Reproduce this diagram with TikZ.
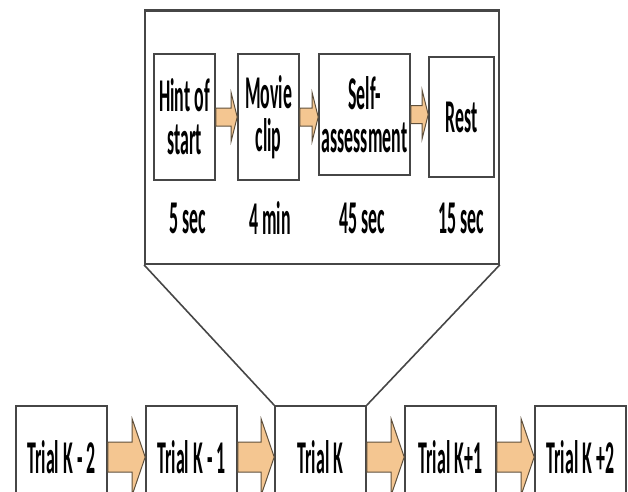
\documentclass[tikz,border=0pt]{standalone}
\usepackage{fontspec}
\newfontfamily\trialfont{Carlito}[FakeStretch=0.38]
\usetikzlibrary{calc}
\definecolor{arrowtan}{RGB}{244,198,145}
\definecolor{arrowedge}{RGB}{95,80,60}
\definecolor{boxedge}{RGB}{70,70,70}
% block arrow: from, to, shaft half, head half, head length
\newcommand{\fatarrow}[5]{%
  \draw[arrowbody] let \p1=(#1.east), \p2=(#2.west) in
    (\x1,\y1+#3) -- (\x2-#5,\y1+#3) -- (\x2-#5,\y1+#4) -- (\x2,\y1)
    -- (\x2-#5,\y1-#4) -- (\x2-#5,\y1-#3) -- (\x1,\y1-#3) -- cycle;}

\begin{document}
\begin{tikzpicture}[x=1pt,y=-1pt,
  font=\trialfont\bfseries\fontsize{47}{43}\selectfont,
  stagebox/.style={draw=boxedge,line width=1.6pt,inner sep=0pt,align=center,minimum height=126pt},
  trialbox/.style={draw=boxedge,line width=1.6pt,inner sep=0pt,minimum width=91pt,minimum height=102pt},
  arrowbody/.style={fill=arrowtan,draw=arrowedge,line width=1pt,line join=miter}]
\useasboundingbox (0,0) rectangle (628,491);
\clip (0,0) rectangle (628,491);
%one trial
\node[draw=boxedge,line width=1.8pt,minimum width=354pt,minimum height=253pt,anchor=north west] (frame) at (144,10) {};
\draw[draw=boxedge,line width=3pt] (frame.north west) -- (frame.north east);
\node[stagebox,minimum width=61pt] (hint) at (184.5,117) {Hint of\\start};
\node[stagebox,minimum width=61pt] (movie) at (268.5,117) {Movie\\clip};
\node[stagebox,minimum width=91pt,minimum height=121pt] (self) at (364.5,114.5) {Self-\\assessment};
\node[stagebox,minimum width=65pt,minimum height=120pt] (rest) at (461.5,117) {Rest};
\fatarrow{hint}{movie}{9pt}{24pt}{6pt}
\fatarrow{movie}{self}{9pt}{24pt}{6pt}
\fatarrow{self}{rest}{9pt}{24pt}{6pt}
\node (dhint) at (188,218) {5 sec};
\node (dmovie) at (270,218) {4 min};
\node (dself) at (362,218) {45 sec};
\node (drest) at (461,218) {15 sec};
%trials
\node[trialbox] (trialKm2) at (61.5,457) {Trial K - 2};
\node[trialbox] (trialKm1) at (191.5,457) {Trial K - 1};
\node[trialbox] (trialK) at (320.5,457) {Trial K};
\node[trialbox] (trialKp1) at (450.5,457) {Trial K+1};
\node[trialbox] (trialKp2) at (580.5,457) {Trial K +2};
\fatarrow{trialKm2}{trialKm1}{15pt}{38pt}{13pt}
\fatarrow{trialKm1}{trialK}{15pt}{38pt}{13pt}
\fatarrow{trialK}{trialKp1}{15pt}{38pt}{13pt}
\fatarrow{trialKp1}{trialKp2}{15pt}{38pt}{13pt}
%zoom lines
\draw[draw=boxedge,line width=1.6pt] (frame.south west) -- (trialK.north west);
\draw[draw=boxedge,line width=1.6pt] (frame.south east) -- (trialK.north east);
\end{tikzpicture}
\end{document}
